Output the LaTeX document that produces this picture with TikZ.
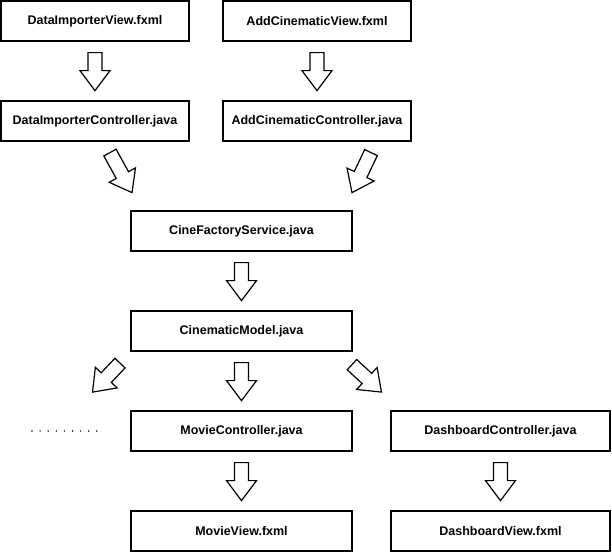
\documentclass[tikz,border=0pt]{standalone}
\usepackage{fontspec}
\setmainfont{Liberation Sans}
\usetikzlibrary{calc}

\tikzset{
  box/.style={draw, line width=1.2pt, minimum height=40pt, inner sep=0pt,
    font=\fontsize{12.5}{15}\selectfont\bfseries},
  blockarrow/.style={draw, fill=white, line width=1.2pt, line join=miter,
    to path={
      ($(\tikztostart)!7pt!90:(\tikztotarget)$)
      -- ($($(\tikztotarget)!20pt!(\tikztostart)$)!7pt!90:(\tikztotarget)$)
      -- ($($(\tikztotarget)!20pt!(\tikztostart)$)!15pt!90:(\tikztotarget)$)
      -- (\tikztotarget)
      -- ($($(\tikztotarget)!20pt!(\tikztostart)$)!15pt!-90:(\tikztotarget)$)
      -- ($($(\tikztotarget)!20pt!(\tikztostart)$)!7pt!-90:(\tikztotarget)$)
      -- ($(\tikztostart)!7pt!-90:(\tikztotarget)$) -- cycle}}
}

\begin{document}
\begin{tikzpicture}[x=1pt, y=1pt]
            \useasboundingbox (0,0) rectangle (612,-552);

            \node[box, minimum width=188pt] (divw) at (95,-21) {DataImporterView.fxml};
            \node[box, minimum width=188pt] (acvw) at (317,-21) {AddCinematicView.fxml};
            \node[box, minimum width=188pt] (dic) at (95,-121) {DataImporterController.java};
            \node[box, minimum width=188pt] (acc) at (317,-121) {AddCinematicController.java};
            \node[box, minimum width=221pt] (cfs) at (241.5,-231) {CineFactoryService.java};
            \node[box, minimum width=221pt] (cm) at (241.5,-331) {CinematicModel.java};
            \node[box, minimum width=221pt] (mc) at (241.5,-431) {MovieController.java};
            \node[box, minimum width=219pt] (dc) at (500.5,-431) {DashboardController.java};
            \node[box, minimum width=221pt] (mv) at (241.5,-531) {MovieView.fxml};
            \node[box, minimum width=219pt] (dv) at (500.5,-531) {DashboardView.fxml};

            \foreach \i in {0,...,8}
              \fill (32+8.1*\i,-431) circle (0.8pt);

            \draw[blockarrow] ([yshift=-11pt]divw.south) to ([yshift=-49pt]divw.south);
            \draw[blockarrow] ([yshift=-11pt]acvw.south) to ([yshift=-49pt]acvw.south);
            \draw[blockarrow] ([shift={(15,-11)}]dic.south) to ([shift={(37,-51)}]dic.south);
            \draw[blockarrow] ([shift={(54,-11)}]acc.south) to ([shift={(35,-51)}]acc.south);
            \draw[blockarrow] ([yshift=-11pt]cfs.south) to ([yshift=-49pt]cfs.south);
            \draw[blockarrow] ([shift={(-121.5,-11.5)}]cm.south) to ([shift={(-149,-40.5)}]cm.south);
            \draw[blockarrow] ([yshift=-11pt]cm.south) to ([yshift=-49pt]cm.south);
            \draw[blockarrow] ([shift={(110.5,-13)}]cm.south) to ([shift={(140,-40.5)}]cm.south);
            \draw[blockarrow] ([yshift=-11pt]mc.south) to ([yshift=-49pt]mc.south);
            \draw[blockarrow] ([yshift=-11pt]dc.south) to ([yshift=-49pt]dc.south);
        \end{tikzpicture}
\end{document}
